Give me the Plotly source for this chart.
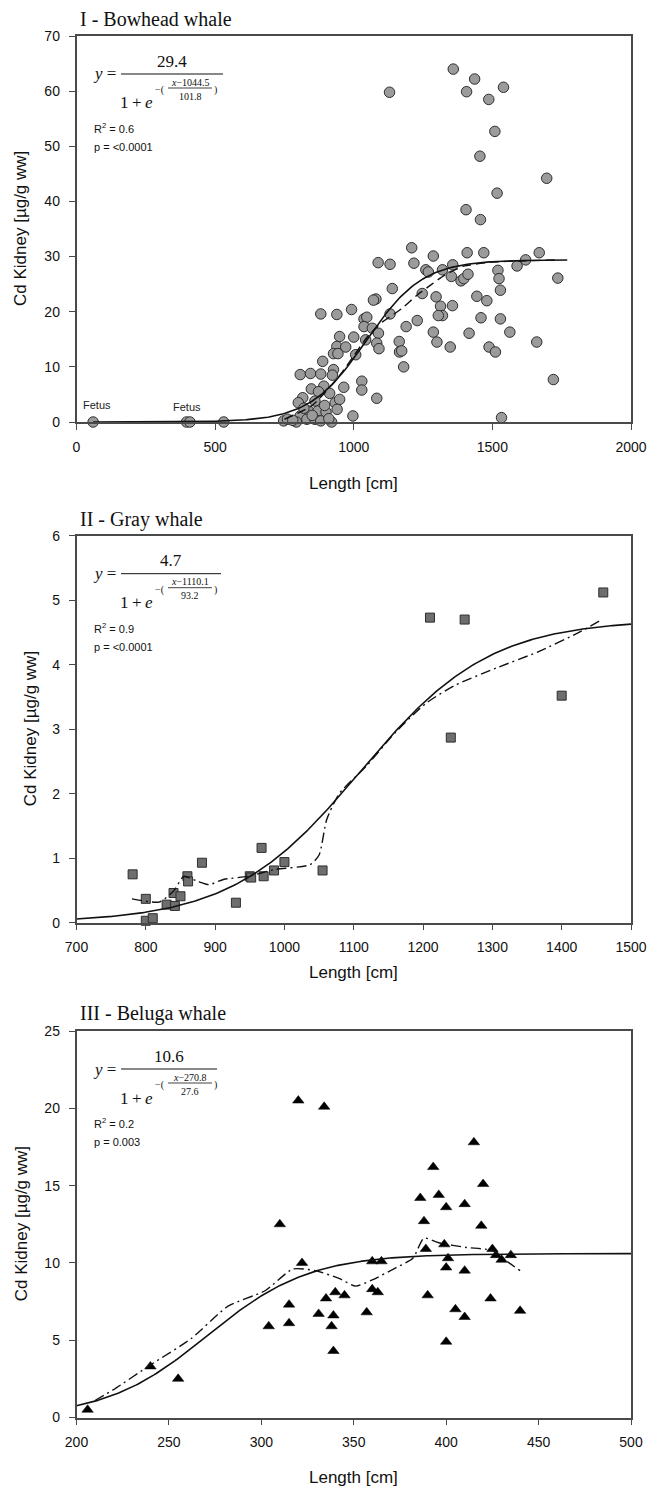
import plotly.graph_objects as go
import numpy as np

W, H = 649, 1487

# ---------------- DATA ----------------
# Panel I - Bowhead whale (circles)
bow_len = [60, 397, 409, 531,
           1129, 1359, 1436, 1407, 1540, 1487, 1509, 1455, 1696, 1517, 1405, 1457,
           1209, 1287, 1409, 1469, 1669, 1088, 1131, 1217, 1260, 1269, 1320, 1357, 1352, 1387,
           1397, 1412, 1520, 1524, 1529, 1589, 1620, 1736, 1139, 1080, 1071, 1247, 1297, 1313,
           1320, 1305, 1356, 1444, 1480, 881, 939, 992, 1037, 1047, 1131, 1189, 1229, 1459,
           1529, 1037, 1067, 949, 1000, 1089, 1043, 1287, 1416, 1563, 939, 971, 1083, 1091,
           1164, 1300, 1348, 1660, 1488, 1511, 1165, 1173, 927, 943, 1007, 1180, 888, 927,
           807, 844, 881, 923, 892, 964, 1029, 1029, 1720, 847, 873, 816, 800, 913, 933, 949,
           940, 1083, 860, 837, 871, 900, 997, 807, 747, 761, 793, 831, 860, 881, 920, 1533,
           820, 850, 895, 910, 780]
bow_cd = [0, 0, 0, 0,
          59.8, 64.0, 62.2, 59.9, 60.7, 58.5, 52.7, 48.2, 44.2, 41.5, 38.5, 36.7,
          31.6, 30.1, 30.7, 30.7, 30.7, 28.9, 28.6, 28.8, 27.6, 27.2, 27.6, 28.5, 26.4, 25.6,
          26.0, 26.8, 27.5, 26.0, 23.9, 28.3, 29.4, 26.1, 24.2, 22.3, 22.1, 23.3, 22.7, 21.0,
          19.3, 19.3, 21.1, 22.8, 22.0, 19.6, 19.5, 20.4, 18.7, 19.0, 19.6, 17.3, 18.4, 18.9,
          18.7, 17.3, 17.0, 15.5, 15.4, 16.1, 14.9, 16.3, 16.1, 16.3, 13.7, 13.6, 14.3, 13.3,
          14.6, 14.5, 13.6, 14.5, 13.6, 12.7, 12.7, 12.9, 12.4, 12.4, 12.2, 10.0, 11.0, 9.5,
          8.6, 8.8, 8.7, 8.5, 6.5, 6.3, 7.4, 5.8, 7.7, 6.0, 5.5, 4.4, 3.5, 5.2, 3.5, 4.1,
          2.3, 4.3, 3.8, 2.0, 2.0, 1.8, 1.1, 1.1, 0.2, 0.5, 0.0, 0.5, 0.5, 0.2, 0.0, 0.8,
          2.5, 1.2, 3.0, 0.6, 0.3]
bow_smooth_len = [750, 850, 950, 1000, 1050, 1100, 1174, 1228, 1282, 1330, 1400, 1500, 1600, 1730]
bow_smooth_cd = [0.5, 3.0, 8.5, 12.0, 15.5, 18.0, 20.6, 23.0, 25.0, 26.7, 28.3, 29.0, 29.2, 29.4]
bow_fit = [29.4, 1044.5, 101.8]          # a, x0, b
bow_fit_range = [60, 1770]

# Panel II - Gray whale (squares)
gray_len = [781, 800, 800, 810, 830, 840, 842, 850, 860, 861, 881, 930, 950, 952, 967,
            970, 985, 1000, 1055, 1210, 1240, 1260, 1400, 1460]
gray_cd = [0.75, 0.37, 0.03, 0.07, 0.28, 0.46, 0.26, 0.41, 0.72, 0.64, 0.93, 0.31, 0.72, 0.70,
           1.16, 0.72, 0.81, 0.94, 0.81, 4.73, 2.87, 4.70, 3.52, 5.12]
gray_smooth_len = [780, 819, 840, 855, 875, 891, 912, 948, 984, 1037, 1050, 1061, 1079, 1120,
                   1160, 1204, 1246, 1306, 1366, 1425, 1458]
gray_smooth_cd = [0.37, 0.32, 0.49, 0.72, 0.64, 0.59, 0.67, 0.72, 0.82, 0.90, 1.05, 1.6, 2.0,
                  2.45, 2.95, 3.40, 3.68, 3.95, 4.20, 4.50, 4.70]
gray_fit = [4.7, 1110.1, 93.2]
gray_fit_range = [700, 1500]

# Panel III - Beluga whale (triangles)
bel_len = [206, 240, 255, 304, 310, 315, 315, 322, 331, 335, 338, 339, 339, 340, 345, 357,
           360, 360, 363, 365, 388, 389, 390, 399, 400, 400, 400, 401, 405, 410, 410, 410,
           419, 424, 425, 427, 430, 435, 440, 320, 334, 415, 393, 420, 386, 396]
bel_cd = [0.5, 3.3, 2.5, 5.9, 12.5, 7.3, 6.1, 10.0, 6.7, 7.7, 5.9, 6.6, 4.3, 8.1, 7.9, 6.8,
          10.1, 8.3, 8.1, 10.1, 12.7, 10.9, 7.9, 11.2, 13.6, 9.7, 4.9, 10.3, 7.0, 13.8, 9.5, 6.5,
          12.4, 7.7, 10.9, 10.5, 10.2, 10.5, 6.9, 20.5, 20.1, 17.8, 16.2, 15.1, 14.2, 14.4]
bel_smooth_len = [210, 220, 240, 262, 282, 302, 317, 329, 342, 351, 360, 373, 382, 388, 396,
                  411, 425, 434, 440]
bel_smooth_cd = [1.1, 1.8, 3.4, 5.1, 7.2, 8.2, 9.6, 9.5, 9.0, 8.5, 8.9, 9.7, 10.3, 11.6, 11.3,
                 11.0, 10.8, 10.0, 9.5]
bel_fit = [10.6, 270.8, 27.6]
bel_fit_range = [200, 500]

titles = ["I - Bowhead whale", "II - Gray whale", "III - Beluga whale"]
eq_num = ["29.4", "4.7", "10.6"]
eq_snum = ["x\u22121044.5", "x\u22121110.1", "x\u2212270.8"]
eq_sden = ["101.8", "93.2", "27.6"]
r2_text = ["0.6", "0.9", "0.2"]
p_text = ["&lt;0.0001", "&lt;0.0001", "0.003"]
x_ranges = [[0, 2000], [700, 1500], [200, 500]]
y_ranges = [[0, 70], [0, 6], [0, 25]]
x_dticks = [500, 100, 50]
y_dticks = [10, 1, 5]

# ---------------- LAYOUT GEOMETRY (pixels) ----------------
left, right = 76.5, 631
tops = [36, 535.7, 1031]
bottoms = [422, 922.7, 1417.5]
xtitle_y = [483, 973, 1477]
ytitle_x = [20, 30, 21]
title_dy = [-17, -16, -18]

def PX(x):
    return x / W

def PY(y):
    return 1 - y / H

def logistic(p, rng):
    xs = np.linspace(rng[0], rng[1], 300)
    return xs, p[0] / (1 + np.exp(-(xs - p[1]) / p[2]))

fig = go.Figure()

axis_col = "#4a4a4a"
serif = "Liberation Serif, Times New Roman, serif"
sans = "Liberation Sans, Arial, sans-serif"

datasets = [
    (bow_len, bow_cd, dict(symbol="circle", size=10.5, color="#9b9b9b", line=dict(color="#2e2e2e", width=1)),
     bow_smooth_len, bow_smooth_cd, "9px,5px", bow_fit, bow_fit_range),
    (gray_len, gray_cd, dict(symbol="square", size=9, color="#6e6e6e", line=dict(color="#2e2e2e", width=1)),
     gray_smooth_len, gray_smooth_cd, "10px,4px,2px,4px", gray_fit, gray_fit_range),
    (bel_len, bel_cd, dict(symbol="triangle-up", size=10, color="#000000", line=dict(color="#000000", width=0.5)),
     bel_smooth_len, bel_smooth_cd, "10px,4px,2px,4px", bel_fit, bel_fit_range),
]

annotations = []
shapes = []

for i, (xl, yl, mk, sx, sy, dash, fitp, frng) in enumerate(datasets):
    xa = "x" if i == 0 else f"x{i+1}"
    ya = "y" if i == 0 else f"y{i+1}"
    fig.add_trace(go.Scatter(x=xl, y=yl, mode="markers", marker=mk, xaxis=xa, yaxis=ya,
                             showlegend=False, cliponaxis=False))
    fx, fy = logistic(fitp, frng)
    fig.add_trace(go.Scatter(x=fx, y=fy, mode="lines", line=dict(color="#111111", width=1.6),
                             xaxis=xa, yaxis=ya, showlegend=False))
    fig.add_trace(go.Scatter(x=sx, y=sy, mode="lines",
                             line=dict(color="#111111", width=1.4, dash=dash, shape="spline", smoothing=0.6),
                             xaxis=xa, yaxis=ya, showlegend=False))

    axn = "" if i == 0 else str(i + 1)
    common = dict(showgrid=False, zeroline=False, showline=True, linecolor=axis_col, linewidth=1.5,
                  mirror=True, ticks="outside", ticklen=6, tickwidth=1.3, tickcolor=axis_col,
                  automargin=False,
                  tickfont=dict(family=sans, size=14, color="#111111"))
    fig.update_layout(**{
        f"xaxis{axn}": dict(domain=[PX(left), PX(right)], range=x_ranges[i], dtick=x_dticks[i],
                            tick0=x_ranges[i][0], anchor=ya, ticklabelstandoff=5, **common),
        f"yaxis{axn}": dict(domain=[PY(bottoms[i]), PY(tops[i])], range=y_ranges[i], dtick=y_dticks[i],
                            tick0=0, anchor=xa, ticklabelstandoff=6, **common),
    })

    top = tops[i]
    # Panel title
    annotations.append(dict(x=PX(78), y=PY(top + title_dy[i]), xref="paper", yref="paper",
                            text=titles[i], showarrow=False, xanchor="left", yanchor="middle",
                            font=dict(family=serif, size=20, color="#111111")))
    # Axis titles
    annotations.append(dict(x=PX((left + right) / 2), y=PY(xtitle_y[i]), xref="paper", yref="paper",
                            text="Length [cm]", showarrow=False, xanchor="center", yanchor="middle",
                            font=dict(family=sans, size=17, color="#111111")))
    annotations.append(dict(x=PX(ytitle_x[i]), y=PY((top + bottoms[i]) / 2), xref="paper", yref="paper",
                            text="Cd Kidney [\u00b5g/g ww]", showarrow=False, textangle=-90,
                            xanchor="center", yanchor="middle",
                            font=dict(family=sans, size=17, color="#111111")))
    # Equation
    line_end = [223, 221, 217][i]

    def T(x, y, txt, size, anchor="center", fam=serif):
        annotations.append(dict(x=PX(x), y=PY(y), xref="paper", yref="paper", text=txt,
                                showarrow=False, xanchor=anchor, yanchor="middle",
                                font=dict(family=fam, size=size, color="#111111")))
    T(118, top + 38, "<i>y</i> =", 17, "right")
    T((121 + line_end) / 2, top + 25, eq_num[i], 17)
    shapes.append(dict(type="line", xref="paper", yref="paper", x0=PX(121), x1=PX(line_end),
                       y0=PY(top + 38), y1=PY(top + 38), line=dict(color="#111111", width=1)))
    T(118, top + 67, "1\u2009+\u2009<i>e</i>", 17, "left")
    T(153, top + 54, "\u2212(", 10, "left")
    T(190, top + 46, "<i>x</i>" + eq_snum[i][1:], 10)
    shapes.append(dict(type="line", xref="paper", yref="paper", x0=PX(168), x1=PX(212),
                       y0=PY(top + 52), y1=PY(top + 52), line=dict(color="#111111", width=0.8)))
    T(190, top + 60, eq_sden[i], 10)
    T(212, top + 54, ")", 10, "left")
    T(92, top + 92, "R<sup>2</sup> = " + r2_text[i], 11, "left", sans)
    T(92, top + 111, "p = " + p_text[i], 11, "left", sans)

# Fetus labels in panel I
annotations.append(dict(x=73, y=3.0, xref="x", yref="y", text="Fetus", showarrow=False,
                        font=dict(family=sans, size=11, color="#222222")))
annotations.append(dict(x=400, y=2.7, xref="x", yref="y", text="Fetus", showarrow=False,
                        font=dict(family=sans, size=11, color="#222222")))

fig.update_layout(width=W, height=H, margin=dict(l=0, r=0, t=0, b=0, autoexpand=False),
                  paper_bgcolor="white", plot_bgcolor="white",
                  annotations=annotations, shapes=shapes, showlegend=False)

fig.write_html("out.html")
